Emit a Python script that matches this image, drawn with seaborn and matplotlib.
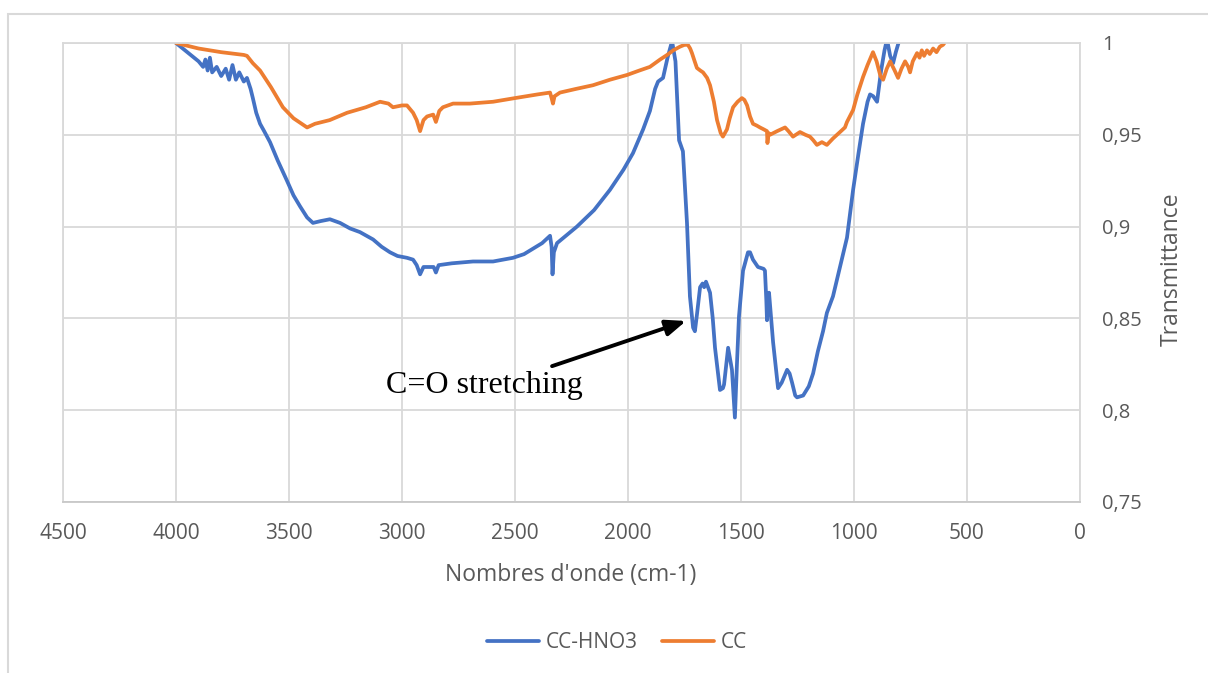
import matplotlib
matplotlib.use('Agg')
import matplotlib.pyplot as plt
import seaborn as sns
import pandas as pd
from matplotlib.ticker import FuncFormatter
from matplotlib.patches import Rectangle

# ---- data ----
wn_hno3 = [4000, 3960, 3930, 3900, 3880, 3870, 3860, 3850, 3840, 3820, 3800, 3780, 3765, 3750,
           3735, 3720, 3700, 3686, 3670, 3660, 3645, 3628, 3610, 3584, 3550, 3509, 3480, 3451,
           3420, 3394, 3360, 3319, 3274, 3230, 3186, 3128, 3090, 3053, 3020, 2978, 2951, 2935,
           2920, 2905, 2870, 2860, 2850, 2838, 2780, 2686, 2597, 2509, 2460, 2420, 2380, 2354,
           2345, 2338, 2334, 2328, 2314, 2226, 2150, 2080, 2020, 1978, 1933, 1903, 1880, 1867,
           1845, 1825, 1805, 1790, 1783, 1774, 1757, 1739, 1726, 1712, 1704, 1695, 1681, 1670,
           1663, 1655, 1637, 1625, 1615, 1593, 1580, 1575, 1557, 1540, 1527, 1518, 1509, 1491,
           1469, 1460, 1447, 1425, 1400, 1394, 1388, 1385, 1380, 1376, 1370, 1358, 1336, 1320,
           1296, 1285, 1274, 1260, 1252, 1225, 1200, 1181, 1160, 1137, 1120, 1093, 1060, 1031,
           1004, 980, 960, 940, 929, 915, 898, 880, 865, 854, 840, 827, 815, 796, 760, 700,
           650, 600]
t_hno3 = [1.000, 0.996, 0.993, 0.990, 0.987, 0.991, 0.985, 0.992, 0.984, 0.987, 0.982, 0.986,
          0.980, 0.988, 0.980, 0.984, 0.979, 0.981, 0.975, 0.970, 0.962, 0.956, 0.952, 0.946,
          0.936, 0.925, 0.917, 0.911, 0.905, 0.902, 0.903, 0.904, 0.902, 0.899, 0.897, 0.893,
          0.889, 0.886, 0.884, 0.883, 0.882, 0.879, 0.874, 0.878, 0.878, 0.878, 0.875, 0.879,
          0.880, 0.881, 0.881, 0.883, 0.885, 0.888, 0.891, 0.894, 0.895, 0.889, 0.874, 0.886,
          0.891, 0.900, 0.909, 0.920, 0.931, 0.940, 0.953, 0.963, 0.975, 0.979, 0.981, 0.992,
          1.001, 0.990, 0.971, 0.947, 0.941, 0.902, 0.862, 0.845, 0.843, 0.852, 0.867, 0.869,
          0.867, 0.870, 0.864, 0.850, 0.834, 0.811, 0.812, 0.814, 0.834, 0.822, 0.796, 0.825,
          0.851, 0.876, 0.886, 0.886, 0.882, 0.878, 0.877, 0.876, 0.860, 0.849, 0.860, 0.864,
          0.855, 0.837, 0.812, 0.815, 0.822, 0.820, 0.815, 0.808, 0.807, 0.808, 0.813, 0.820,
          0.832, 0.843, 0.853, 0.862, 0.879, 0.894, 0.920, 0.940, 0.956, 0.968, 0.972, 0.971,
          0.968, 0.985, 0.996, 1.002, 0.993, 0.989, 0.995, 1.003, 1.010, 1.015, 1.020, 1.020]

wn_cc = [4000, 3900, 3800, 3700, 3686, 3660, 3628, 3580, 3527, 3480, 3420, 3385, 3320, 3243,
         3160, 3097, 3060, 3040, 3000, 2978, 2951, 2935, 2920, 2905, 2889, 2862, 2850, 2835,
         2819, 2774, 2700, 2597, 2500, 2400, 2345, 2338, 2332, 2325, 2301, 2230, 2155, 2080,
         2004, 1950, 1903, 1858, 1827, 1800, 1770, 1750, 1735, 1725, 1717, 1705, 1695, 1680,
         1668, 1650, 1637, 1620, 1606, 1590, 1580, 1562, 1550, 1535, 1515, 1496, 1485, 1473,
         1460, 1447, 1430, 1416, 1400, 1385, 1383, 1378, 1372, 1340, 1305, 1290, 1270, 1239,
         1215, 1195, 1180, 1164, 1142, 1120, 1093, 1062, 1040, 1031, 1004, 985, 960, 940, 916,
         900, 883, 871, 855, 840, 820, 805, 790, 774, 760, 752, 740, 721, 710, 700, 690, 677,
         665, 650, 635, 620, 606, 600]
t_cc = [1.000, 0.997, 0.995, 0.9935, 0.993, 0.989, 0.985, 0.976, 0.965, 0.959, 0.954, 0.956,
        0.958, 0.962, 0.965, 0.968, 0.967, 0.965, 0.966, 0.966, 0.962, 0.958, 0.952, 0.958,
        0.960, 0.961, 0.957, 0.963, 0.965, 0.967, 0.967, 0.968, 0.970, 0.972, 0.973, 0.970,
        0.967, 0.971, 0.973, 0.975, 0.977, 0.980, 0.9826, 0.985, 0.987, 0.991, 0.9935, 0.996,
        0.998, 0.999, 0.999, 0.997, 0.9945, 0.990, 0.9864, 0.985, 0.984, 0.981, 0.977, 0.968,
        0.958, 0.951, 0.949, 0.953, 0.959, 0.965, 0.968, 0.970, 0.969, 0.966, 0.960, 0.956,
        0.955, 0.954, 0.953, 0.952, 0.9455, 0.951, 0.950, 0.952, 0.954, 0.952, 0.949, 0.9515,
        0.950, 0.949, 0.947, 0.9445, 0.946, 0.9445, 0.948, 0.9515, 0.954, 0.957, 0.9635,
        0.972, 0.9815, 0.988, 0.995, 0.990, 0.982, 0.980, 0.986, 0.990, 0.985, 0.981, 0.986,
        0.990, 0.987, 0.984, 0.990, 0.9945, 0.992, 0.996, 0.993, 0.996, 0.994, 0.997, 0.995,
        0.998, 0.999, 1.000]

series_names = ["CC-HNO3", "CC"]
colors = ["#4472C4", "#ED7D31"]
x_ticks = [4500, 4000, 3500, 3000, 2500, 2000, 1500, 1000, 500, 0]
y_ticks = [0.75, 0.8, 0.85, 0.9, 0.95, 1.0]

df = pd.concat([
    pd.DataFrame({"wn": wn_hno3, "t": t_hno3, "series": series_names[0]}),
    pd.DataFrame({"wn": wn_cc, "t": t_cc, "series": series_names[1]}),
], ignore_index=True)

sns.set_theme(style="white")
plt.rcParams['font.family'] = ['Open Sans', 'DejaVu Sans']

W, H = 1208, 673
fig = plt.figure(figsize=(W / 100, H / 100), dpi=100)
ax = fig.add_axes([63 / W, 1 - 502 / H, (1080 - 63) / W, (502 - 43) / H])

sns.lineplot(data=df, x="wn", y="t", hue="series", palette=dict(zip(series_names, colors)),
             sort=False, estimator=None, ax=ax, linewidth=2.7, legend=False)

ax.set_xlim(4500, 0)
ax.set_ylim(0.75, 1.0)
ax.set_xticks(x_ticks)
ax.set_yticks(y_ticks)
ax.yaxis.tick_right()
ax.yaxis.set_major_formatter(FuncFormatter(lambda v, p: f"{v:g}".replace('.', ',')))
ax.grid(True, color="#d9d9d9", linewidth=1.3)
ax.set_axisbelow(True)
for s in ax.spines.values():
    s.set_color("#d9d9d9")
    s.set_linewidth(1.3)
ax.spines['bottom'].set_color("#c8c8c8")
ax.tick_params(axis='both', length=0, colors="#595959")
ax.tick_params(axis='x', pad=15, labelsize=15)
ax.tick_params(axis='y', pad=16, labelsize=14.5)
for lab in ax.get_yticklabels():
    lab.set_horizontalalignment('left')
ax.set_xlabel("")
ax.set_ylabel("")

fig.text(571 / W, 1 - 575 / H, "Nombres d'onde (cm-1)", ha='center', va='center',
         fontsize=16.5, color="#595959")
fig.text(1172 / W, 1 - 269 / H, "Transmittance", ha='center', va='center', rotation=90,
         fontsize=16.5, color="#595959")

# annotation
ax.annotate("", xy=(1743, 0.8486), xytext=(2336, 0.824),
            arrowprops=dict(arrowstyle="-|>,head_length=1.0,head_width=0.4", color="black",
                            lw=2.8, shrinkA=0, shrinkB=0))
ax.text(3071, 0.8094, "C=O stretching", ha='left', va='baseline',
        fontsize=23, family=['Liberation Serif', 'DejaVu Serif'], color='black')

# legend
handles = ax.get_lines()[:2]
fig.legend(handles, series_names, loc='center', bbox_to_anchor=(617 / W, 1 - 643 / H), ncol=2,
           frameon=False, fontsize=15, handlelength=2.5, handletextpad=0.3,
           columnspacing=1.2, labelcolor="#595959")

# outer chart frame
fig.patches.append(Rectangle((8 / W, -0.1), 1.2, (H - 14) / H + 0.1, transform=fig.transFigure,
                             fill=False, edgecolor="#d9d9d9", linewidth=1.5))

fig.savefig("out.png", dpi=100, facecolor="white")
